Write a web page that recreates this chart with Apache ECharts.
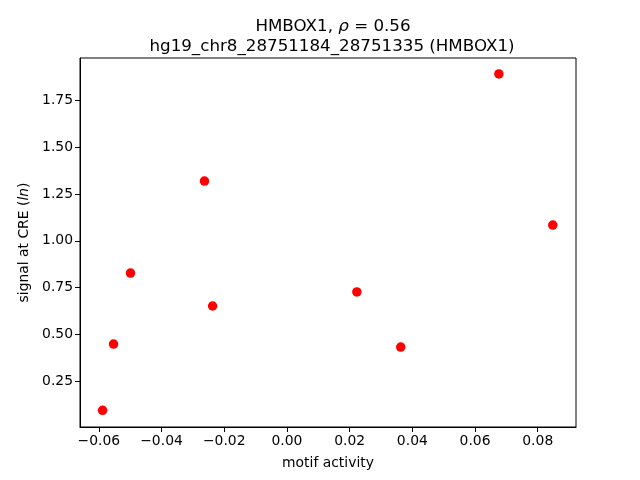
<!DOCTYPE html>
<html>
<head>
<meta charset="utf-8">
<script src="https://cdn.jsdelivr.net/npm/echarts@6/dist/echarts.min.js"></script>
<style>html,body{margin:0;padding:0;background:#fff}#c{width:640px;height:480px}</style>
</head>
<body>
<div id="c"></div>
<script>
var xValues = [-0.0588, -0.0553, -0.0499, -0.0263, -0.0237, 0.0223, 0.0363, 0.0676, 0.0848];
var yValues = [0.095, 0.449, 0.828, 1.319, 0.652, 0.727, 0.433, 1.891, 1.084];
var xTicks = [-0.06, -0.04, -0.02, 0.00, 0.02, 0.04, 0.06, 0.08];
var yTicks = [0.25, 0.50, 0.75, 1.00, 1.25, 1.50, 1.75];
var titleLine1 = 'HMBOX1, {i|ρ} = 0.56';
var titleLine2 = 'hg19_chr8_28751184_28751335 (HMBOX1)';

var font = 'DejaVu Sans';
function fmt(v) { return (v < 0 ? '\u2212' : '') + Math.abs(v).toFixed(2); }
var pts = xValues.map(function (x, i) { return [x, yValues[i]]; });

var chart = echarts.init(document.getElementById('c'), null, {renderer: 'canvas'});
chart.setOption({
  animation: false,
  backgroundColor: '#fff',
  title: [
    {text: titleLine1, left: 328, top: 13, textAlign: 'center',
     textStyle: {fontFamily: font, fontSize: 16.7, fontWeight: 'normal', color: '#000',
       rich: {i: {fontFamily: font, fontSize: 16.7, fontStyle: 'italic', color: '#000'}}}},
    {text: titleLine2, left: 327, top: 33, textAlign: 'center',
     textStyle: {fontFamily: font, fontSize: 16.7, fontWeight: 'normal', color: '#000'}}
  ],
  grid: {left: 80, right: 64, top: 58, bottom: 53, show: true, borderColor: '#000', borderWidth: 1, containLabel: false},
  xAxis: {
    type: 'value', min: -0.066, max: 0.0922,
    name: 'motif activity', nameLocation: 'middle', nameGap: 29,
    nameTextStyle: {fontFamily: font, fontSize: 13.9, color: '#000'},
    axisLine: {show: true, onZero: false, lineStyle: {color: '#000', width: 1}},
    axisTick: {show: true, length: 5, lineStyle: {color: '#000'}, customValues: xTicks},
    axisLabel: {fontFamily: font, fontSize: 13.9, color: '#000', margin: 7, formatter: fmt, customValues: xTicks},
    splitLine: {show: false}
  },
  yAxis: {
    type: 'value', min: 0.006, max: 1.976,
    name: 'signal at CRE ({i|ln})', nameLocation: 'middle', nameGap: 48, nameRotate: 90,
    nameTextStyle: {fontFamily: font, fontSize: 13.9, color: '#000',
      rich: {i: {fontFamily: font, fontSize: 13.9, fontStyle: 'italic', color: '#000'}}},
    axisLine: {show: true, onZero: false, lineStyle: {color: '#000', width: 1}},
    axisTick: {show: true, length: 5, lineStyle: {color: '#000'}, customValues: yTicks},
    axisLabel: {fontFamily: font, fontSize: 13.9, color: '#000', margin: 7, formatter: fmt, customValues: yTicks},
    splitLine: {show: false}
  },
  series: [{
    type: 'scatter', data: pts, symbol: 'circle', symbolSize: 9.5,
    itemStyle: {color: '#ff0000', opacity: 1}
  }]
});
</script>
</body>
</html>
